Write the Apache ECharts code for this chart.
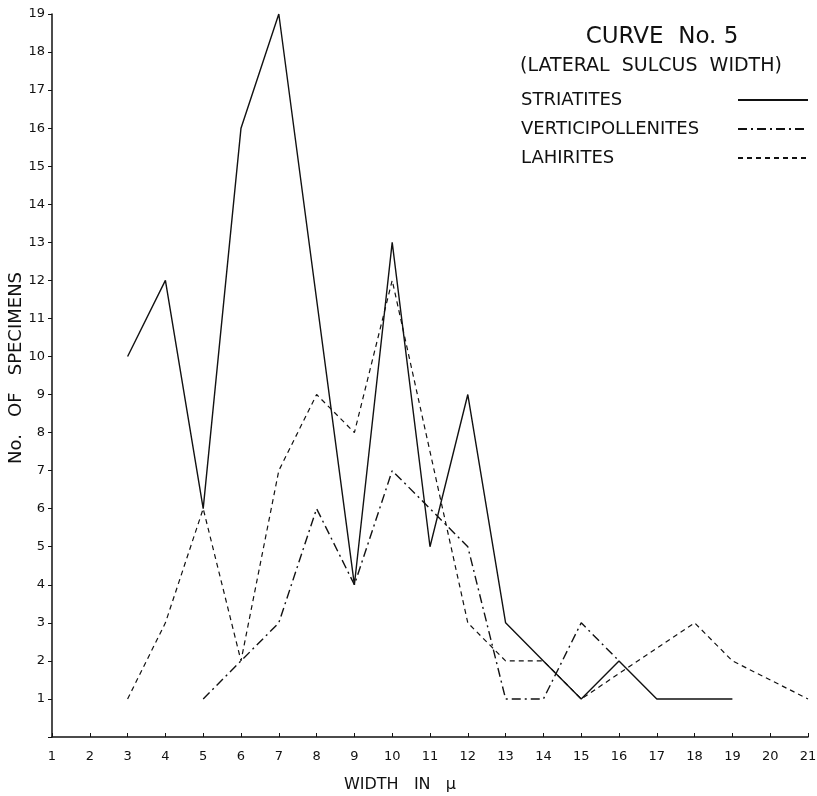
<!DOCTYPE html>
<html>
<head>
<meta charset="utf-8">
<script src="https://cdn.jsdelivr.net/npm/echarts@6/dist/echarts.min.js"></script>
<style>
  html, body { margin: 0; padding: 0; background: #fff; }
  #main { width: 817px; height: 796px; }
</style>
</head>
<body>
<div id="main"></div>
<script>
// width in microns, 1..21
const widths = [1, 2, 3, 4, 5, 6, 7, 8, 9, 10, 11, 12, 13, 14, 15, 16, 17, 18, 19, 20, 21];
// null = no plotted point there (line drawn straight through)
const striatites = [null, null, 10, 12, 6, 16, 19, null, 4, 13, 5, 9, 3, 2, 1, 2, 1, null, 1, null, null];
const verticipollenites = [null, null, null, null, 1, 2, 3, 6, 4, 7, 6, 5, 1, 1, 3, 2, null, null, null, null, null];
const lahirites = [null, null, 1, 3, 6, 2, 7, 9, 8, 12, null, 3, 2, 2, 1, null, null, 3, 2, null, 1];

const seriesNames = ['STRIATITES', 'VERTICIPOLLENITES', 'LAHIRITES'];

function pairs(values) {
  const out = [];
  values.forEach((v, i) => {
    if (v !== null) out.push([widths[i], v]);
  });
  return out;
}

const font = 'DejaVu Sans';
const ink = '#111';

const option = {
  backgroundColor: '#fff',
  animation: false,
  textStyle: { fontFamily: font, color: ink },
  title: [
    {
      text: 'CURVE  No. 5',
      left: 657,
      top: 21,
      textAlign: 'center',
      textStyle: { fontFamily: font, fontSize: 23, fontWeight: 'normal', color: ink }
    },
    {
      text: '(LATERAL  SULCUS  WIDTH)',
      left: 646,
      top: 52,
      textAlign: 'center',
      textStyle: { fontFamily: font, fontSize: 19, fontWeight: 'normal', color: ink }
    }
  ],
  // y axis title, placed by hand
  graphic: [
    {
      type: 'text',
      x: 16,
      y: 368,
      rotation: Math.PI / 2,
      style: {
        text: 'No.   OF   SPECIMENS',
        fontFamily: font,
        fontSize: 18,
        fill: ink,
        align: 'center',
        verticalAlign: 'middle'
      }
    }
  ],
  legend: {
    orient: 'vertical',
    left: 516,
    top: 86,
    align: 'right',
    itemWidth: 70,
    itemHeight: 14,
    itemGap: 11,
    itemStyle: { opacity: 0 },
    data: seriesNames,
    formatter: name => '{a|' + name + '}',
    textStyle: {
      color: ink,
      fontFamily: font,
      fontSize: 18,
      rich: { a: { width: 212, align: 'left', fontFamily: font, fontSize: 18, color: ink } }
    }
  },
  grid: { left: 52, right: 9, top: 14, bottom: 59, outerBoundsMode: 'none' },
  xAxis: {
    type: 'value',
    min: 1,
    max: 21,
    interval: 1,
    name: 'WIDTH   IN   μ',
    nameLocation: 'middle',
    nameGap: 40,
    nameMoveOverlap: false,
    nameTextStyle: { fontFamily: font, fontSize: 16, color: ink, padding: [0, 60, 0, 0] },
    axisLine: { lineStyle: { color: ink, width: 1.5 } },
    axisTick: { inside: true, length: 4, lineStyle: { color: ink } },
    axisLabel: { color: ink, fontFamily: font, fontSize: 13, margin: 13 },
    splitLine: { show: false }
  },
  yAxis: {
    type: 'value',
    min: 0,
    max: 19,
    interval: 1,
    axisLine: { show: true, lineStyle: { color: ink, width: 1.5 } },
    axisTick: { length: 4, lineStyle: { color: ink } },
    axisLabel: {
      color: ink,
      fontFamily: font,
      fontSize: 13,
      margin: 7,
      formatter: v => (v === 0 ? '' : v)
    },
    splitLine: { show: false }
  },
  series: [
    {
      name: seriesNames[0],
      type: 'line',
      data: pairs(striatites),
      symbol: 'none',
      color: ink,
      lineStyle: { color: ink, width: 1.4, type: 'solid' }
    },
    {
      name: seriesNames[1],
      type: 'line',
      data: pairs(verticipollenites),
      symbol: 'none',
      color: ink,
      lineStyle: { color: ink, width: 1.4, type: [9, 4, 2, 4] }
    },
    {
      name: seriesNames[2],
      type: 'line',
      data: pairs(lahirites),
      symbol: 'none',
      color: ink,
      lineStyle: { color: ink, width: 1.2, type: [5, 4] }
    }
  ]
};

const myChart = echarts.init(document.getElementById('main'));
myChart.setOption(option);
</script>
</body>
</html>
